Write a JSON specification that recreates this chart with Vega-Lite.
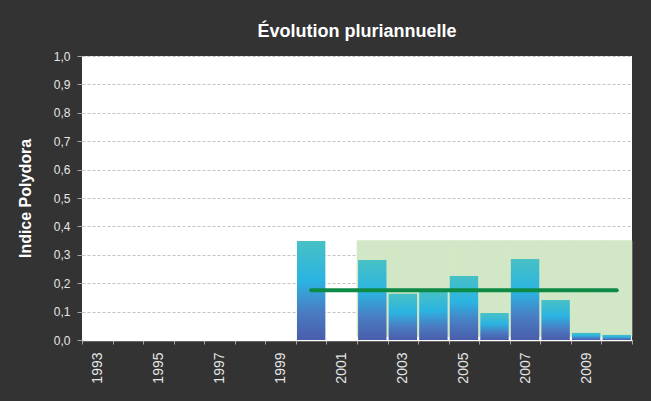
{
  "$schema": "https://vega.github.io/schema/vega-lite/v6.json",
  "width": 550,
  "height": 284,
  "autosize": {"type": "none"},
  "padding": {"left": 82, "top": 56, "right": 19, "bottom": 61},
  "background": "#323332",
  "title": {
    "text": "Évolution pluriannuelle",
    "color": "#ffffff",
    "font": "Liberation Sans",
    "fontSize": 18,
    "fontWeight": "bold",
    "anchor": "middle",
    "frame": "group",
    "offset": 9
  },
  "config": {
    "view": {"fill": "#ffffff", "stroke": null},
    "font": "Liberation Sans"
  },
  "datasets": {
    "bars": [
      {"year": "1993", "v": null},
      {"year": "1994", "v": null},
      {"year": "1995", "v": null},
      {"year": "1996", "v": null},
      {"year": "1997", "v": null},
      {"year": "1998", "v": null},
      {"year": "1999", "v": null},
      {"year": "2000", "v": 0.349},
      {"year": "2001", "v": null},
      {"year": "2002", "v": 0.282},
      {"year": "2003", "v": 0.163},
      {"year": "2004", "v": 0.172},
      {"year": "2005", "v": 0.225},
      {"year": "2006", "v": 0.095},
      {"year": "2007", "v": 0.285},
      {"year": "2008", "v": 0.141},
      {"year": "2009", "v": 0.025},
      {"year": "2010", "v": 0.018}
    ],
    "zone": [
      {"year": "2002", "v": 0.35, "v2": 0.012},
      {"year": "2003", "v": 0.35, "v2": 0.012},
      {"year": "2004", "v": 0.35, "v2": 0.012},
      {"year": "2005", "v": 0.35, "v2": 0.012},
      {"year": "2006", "v": 0.35, "v2": 0.012},
      {"year": "2007", "v": 0.35, "v2": 0.012},
      {"year": "2008", "v": 0.35, "v2": 0.012},
      {"year": "2009", "v": 0.35, "v2": 0.012},
      {"year": "2010", "v": 0.35, "v2": 0.012}
    ],
    "mean": [
      {"year": "2000", "v": 0.175},
      {"year": "2010", "v": 0.175}
    ]
  },
  "encoding": {
    "x": {
      "field": "year",
      "type": "ordinal",
      "scale": {
        "domain": ["1993","1994","1995","1996","1997","1998","1999","2000","2001","2002","2003","2004","2005","2006","2007","2008","2009","2010"],
        "paddingInner": 0,
        "paddingOuter": 0
      },
      "axis": {
        "title": null,
        "labelAngle": -90,
        "labelExpr": "toNumber(datum.value) % 2 == 1 ? datum.label : ''",
        "tickBand": "extent",
        "labelColor": "#e6e6e6",
        "labelFontSize": 14,
        "labelPadding": 8,
        "tickColor": "#a0a0a0",
        "tickSize": 4,
        "domainColor": "#ffffff",
        "domainWidth": 1.5,
        "grid": false
      }
    },
    "y": {
      "field": "v",
      "type": "quantitative",
      "scale": {"domain": [0, 1], "nice": false},
      "axis": {
        "title": "Indice Polydora",
        "values": [0, 0.1, 0.2, 0.3, 0.4, 0.5, 0.6, 0.7, 0.8, 0.9, 1.0],
        "labelExpr": "replace(format(datum.value, '.1f'), '.', ',')",
        "labelColor": "#e6e6e6",
        "labelFontSize": 12,
        "labelPadding": 7,
        "tickColor": "#a0a0a0",
        "tickSize": 5,
        "domain": false,
        "grid": true,
        "gridColor": "#c4c4c4",
        "gridDash": [3, 2],
        "titleColor": "#ffffff",
        "titleFontSize": 16,
        "titleFontWeight": "bold",
        "titlePadding": 20
      }
    }
  },
  "layer": [
    {
      "data": {"name": "zone"},
      "mark": {"type": "bar", "color": "#d1e7c5", "stroke": "#d1e7c5", "strokeWidth": 0.6, "width": {"band": 1}},
      "encoding": {"y2": {"field": "v2"}}
    },
    {
      "data": {"name": "bars"},
      "mark": {
        "type": "bar",
        "width": {"band": 0.93},
        "color": {
          "gradient": "linear",
          "x1": 0, "y1": 0, "x2": 0, "y2": 1,
          "stops": [
            {"offset": 0, "color": "#48c1c5"},
            {"offset": 0.4, "color": "#2bb4e2"},
            {"offset": 0.72, "color": "#4a7cc2"},
            {"offset": 1, "color": "#4a5dab"}
          ]
        }
      }
    },
    {
      "data": {"name": "mean"},
      "mark": {"type": "line", "color": "#0d8a45", "strokeWidth": 4, "strokeCap": "round"}
    }
  ]
}
